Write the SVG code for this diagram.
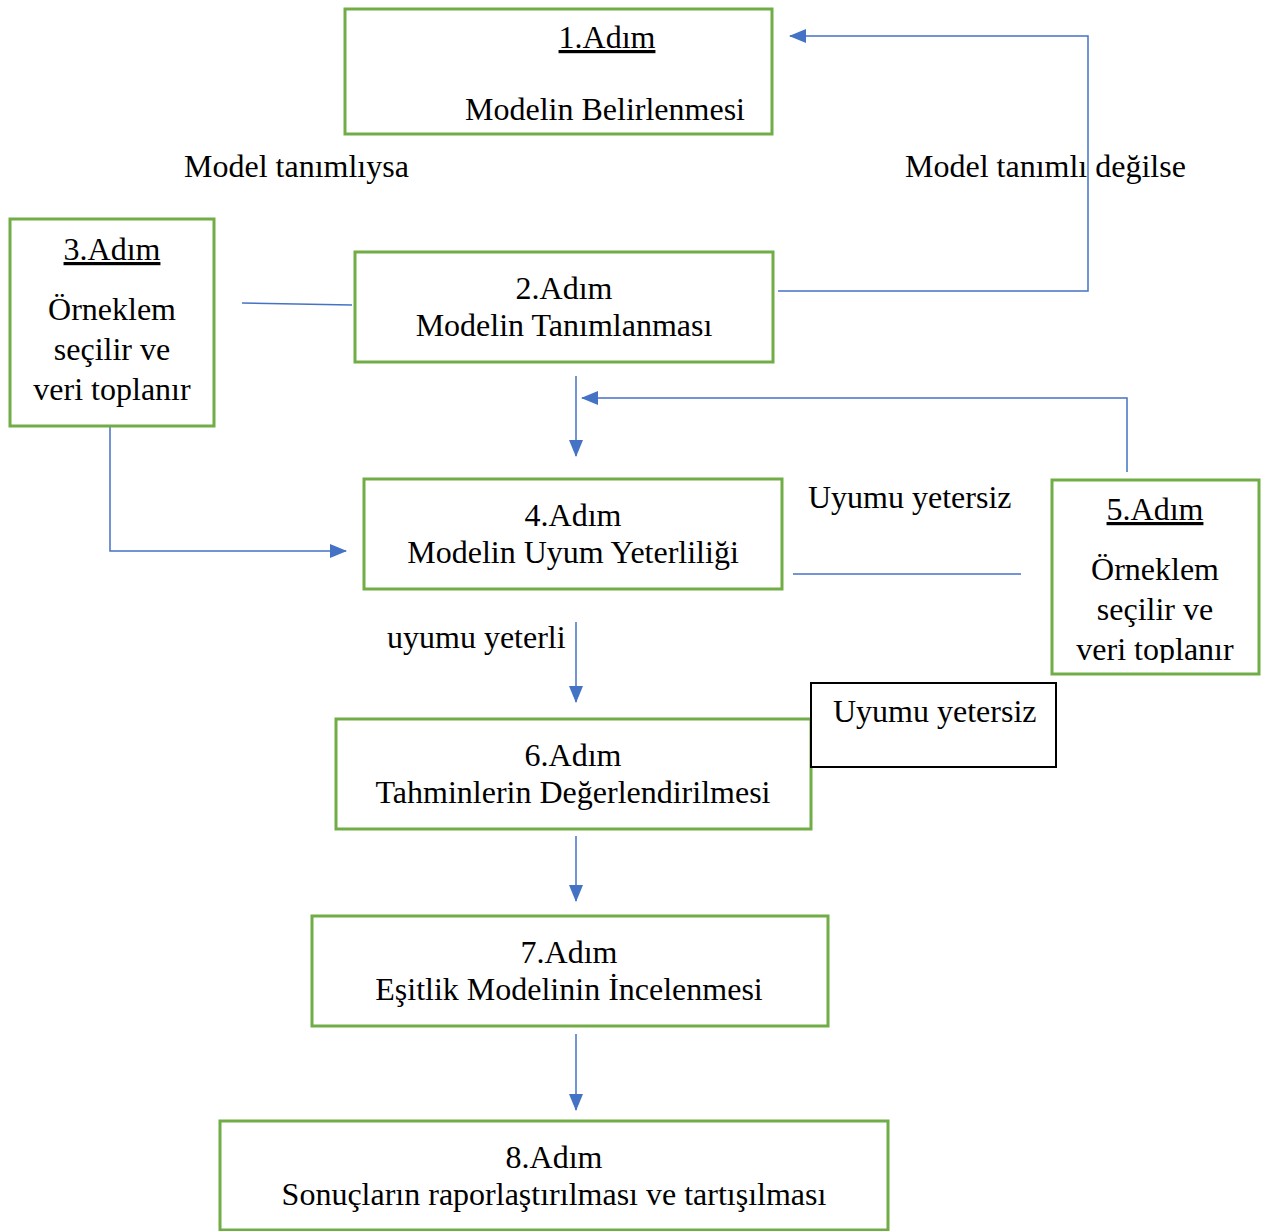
<svg xmlns="http://www.w3.org/2000/svg" width="1270" height="1231" viewBox="0 0 1270 1231">
<style>
.box{fill:#fff;stroke:#70ad47;stroke-width:3}
.bbox{fill:#fff;stroke:#000;stroke-width:2}
text{font-family:"Liberation Serif","Times New Roman",serif;font-size:32px;fill:#000}
.c{text-anchor:middle}
.u{text-decoration:underline}
.con{fill:none;stroke:#4472c4;stroke-width:1.5}
</style>
<defs>
<marker id="ah" markerUnits="userSpaceOnUse" markerWidth="18" markerHeight="14" refX="16" refY="7" orient="auto">
<path d="M0,0 L17,7 L0,14 Z" fill="#4472c4"/>
</marker>
<clipPath id="clip5"><rect x="1052" y="480" width="207" height="183"/></clipPath>
</defs>
<rect width="1270" height="1231" fill="#fff"/>
<g id="connectors">
<path class="con" d="M778,291 H1088 V36 H790" marker-end="url(#ah)"/>
<path class="con" d="M242,303 L352,305"/>
<path class="con" d="M576,376 V456" marker-end="url(#ah)"/>
<path class="con" d="M1127,472 V398 H582" marker-end="url(#ah)"/>
<path class="con" d="M108,422 H110 V551 H346" marker-end="url(#ah)"/>
<path class="con" d="M793,574 H1021"/>
<path class="con" d="M576,622 V702" marker-end="url(#ah)"/>
<path class="con" d="M576,836 V901" marker-end="url(#ah)"/>
<path class="con" d="M576,1034 V1110" marker-end="url(#ah)"/>
</g>
<g id="step1">
<rect class="box" x="345" y="9" width="427" height="125"/>
<text class="c u" x="607" y="48">1.Adım</text>
<text class="c" x="605" y="120">Modelin Belirlenmesi</text>
</g>
<g id="label-tanimliysa"><text x="184" y="177">Model tanımlıysa</text></g>
<g id="label-tanimli-degilse"><text x="905" y="177">Model tanımlı değilse</text></g>
<g id="step3">
<rect class="box" x="10" y="219" width="204" height="207"/>
<text class="c u" x="112" y="260">3.Adım</text>
<text class="c" x="112" y="320">Örneklem</text>
<text class="c" x="112" y="360">seçilir ve</text>
<text class="c" x="112" y="400">veri toplanır</text>
</g>
<g id="step2">
<rect class="box" x="355" y="252" width="418" height="110"/>
<text class="c" x="564" y="299">2.Adım</text>
<text class="c" x="564" y="336">Modelin Tanımlanması</text>
</g>
<g id="step4">
<rect class="box" x="364" y="479" width="418" height="110"/>
<text class="c" x="573" y="526">4.Adım</text>
<text class="c" x="573" y="563">Modelin Uyum Yeterliliği</text>
</g>
<g id="label-uyumu-yetersiz-1"><text x="808" y="508">Uyumu yetersiz</text></g>
<g id="step5">
<rect class="box" x="1052" y="480" width="207" height="194"/>
<g clip-path="url(#clip5)">
<text class="c u" x="1155" y="520">5.Adım</text>
<text class="c" x="1155" y="580">Örneklem</text>
<text class="c" x="1155" y="620">seçilir ve</text>
<text class="c" x="1155" y="660">veri toplanır</text>
</g>
</g>
<g id="label-uyumu-yeterli"><text x="387" y="648">uyumu yeterli</text></g>
<g id="step6">
<rect class="box" x="336" y="719" width="475" height="110"/>
<text class="c" x="573" y="766">6.Adım</text>
<text class="c" x="573" y="803">Tahminlerin Değerlendirilmesi</text>
</g>
<g id="label-uyumu-yetersiz-2">
<rect class="bbox" x="811" y="683" width="245" height="84"/>
<text x="833" y="722">Uyumu yetersiz</text>
</g>
<g id="step7">
<rect class="box" x="312" y="916" width="516" height="110"/>
<text class="c" x="569" y="963">7.Adım</text>
<text class="c" x="569" y="1000">Eşitlik Modelinin İncelenmesi</text>
</g>
<g id="step8">
<rect class="box" x="220" y="1121" width="668" height="109"/>
<text class="c" x="554" y="1168">8.Adım</text>
<text class="c" x="554" y="1205">Sonuçların raporlaştırılması ve tartışılması</text>
</g>
</svg>
